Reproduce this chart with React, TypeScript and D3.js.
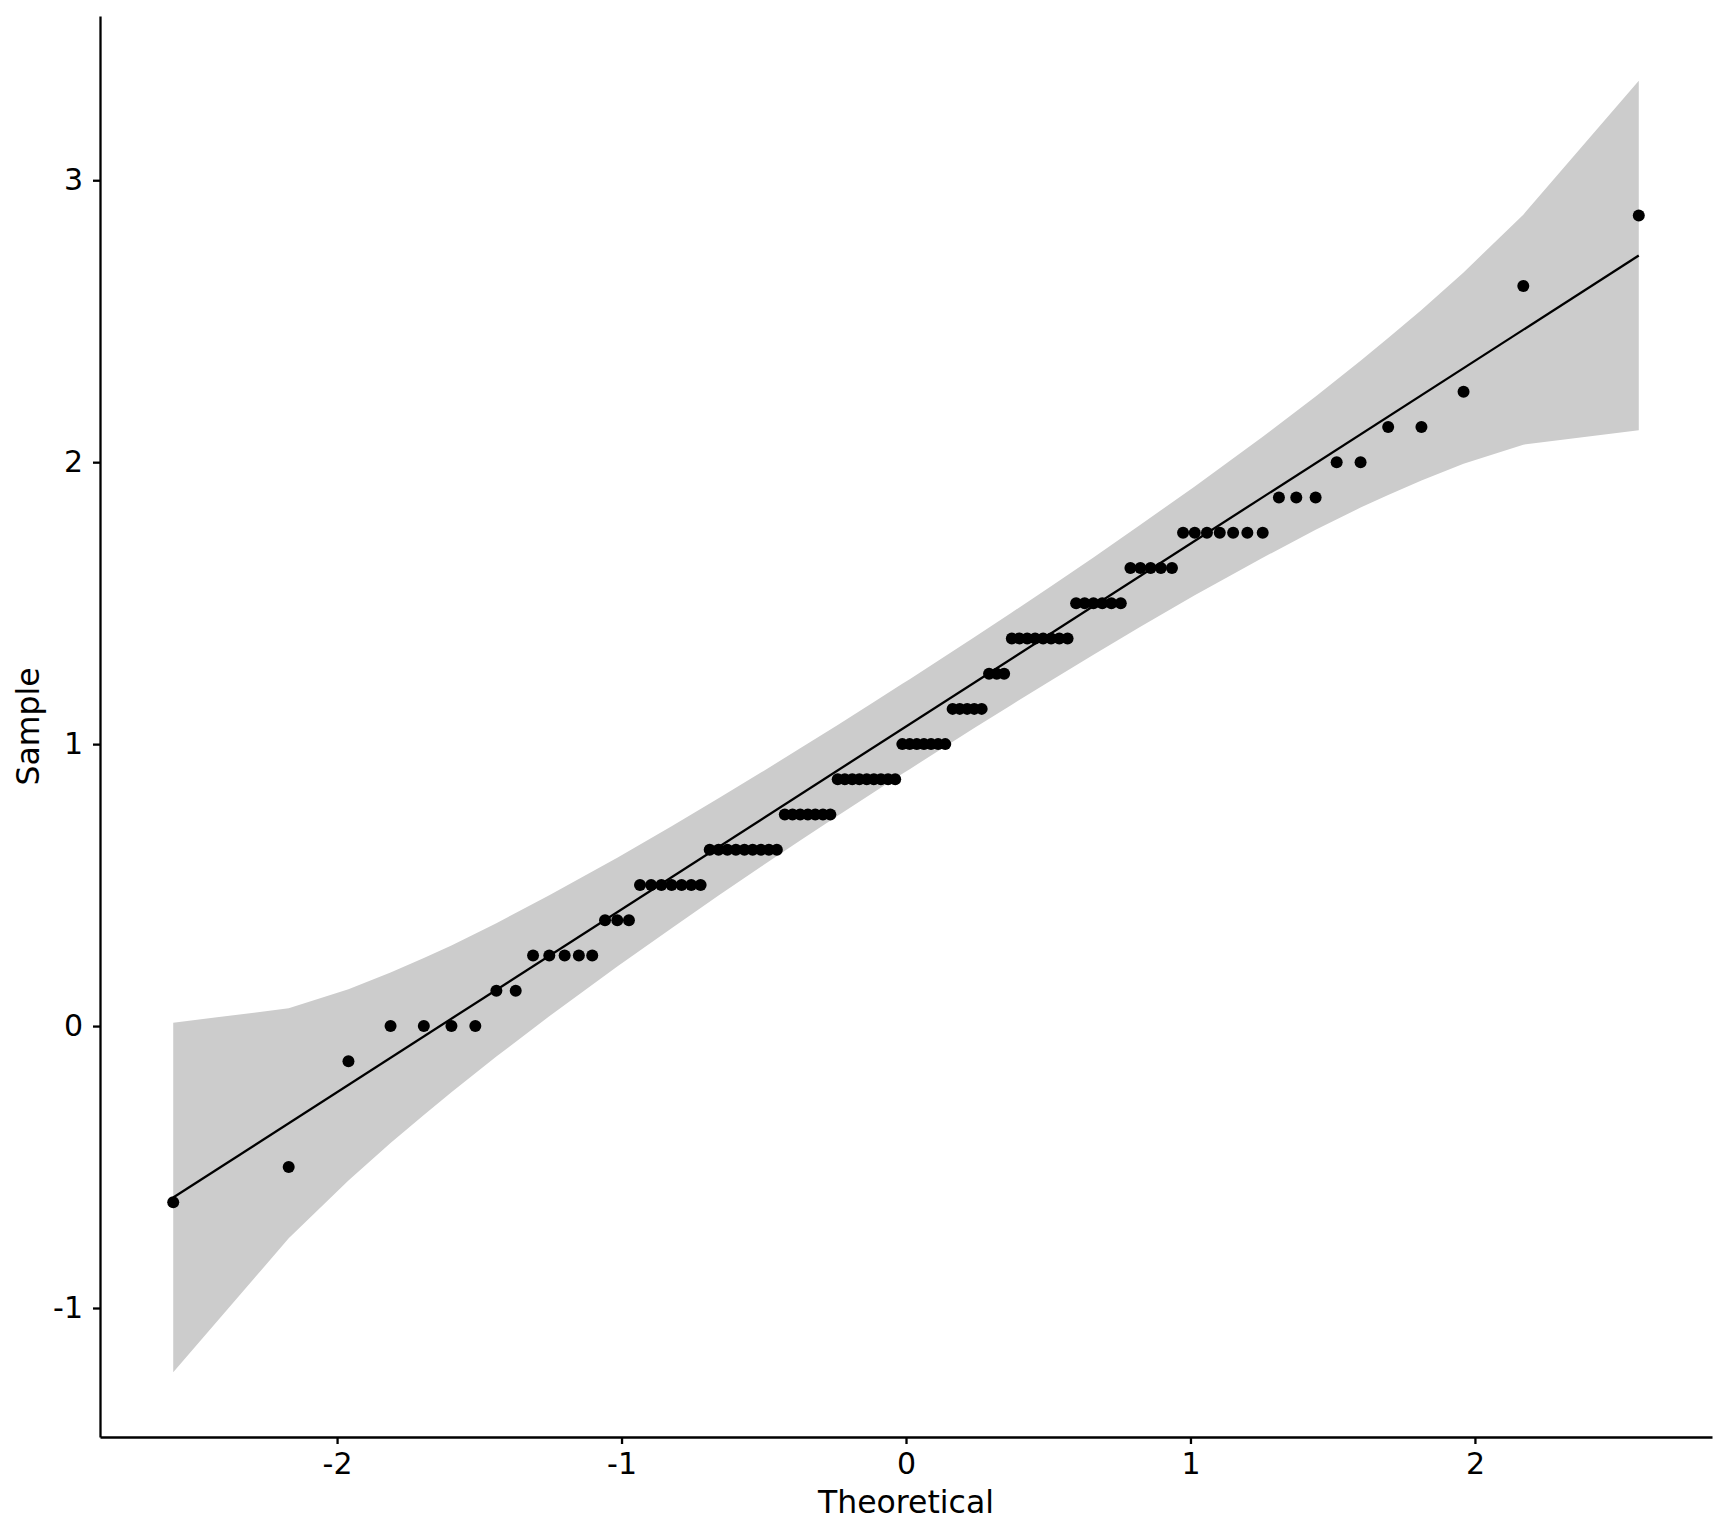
import React, { useEffect, useRef } from 'react';
import * as d3 from 'd3';

// theoretical normal quantiles (x) and sorted sample values (y)
const theoretical = [
  -2.576, -2.170, -1.960, -1.812, -1.695, -1.598, -1.514, -1.440, -1.372, -1.311,
  -1.254, -1.200, -1.150, -1.103, -1.058, -1.015, -0.974, -0.935, -0.896, -0.860,
  -0.824, -0.789, -0.755, -0.722, -0.690, -0.659, -0.628, -0.598, -0.568, -0.539,
  -0.510, -0.482, -0.454, -0.426, -0.399, -0.372, -0.345, -0.319, -0.292, -0.266,
  -0.240, -0.215, -0.189, -0.164, -0.138, -0.113, -0.088, -0.063, -0.038, -0.013,
  0.013, 0.038, 0.063, 0.088, 0.113, 0.138, 0.164, 0.189, 0.215, 0.240,
  0.266, 0.292, 0.319, 0.345, 0.372, 0.399, 0.426, 0.454, 0.482, 0.510,
  0.539, 0.568, 0.598, 0.628, 0.659, 0.690, 0.722, 0.755, 0.789, 0.824,
  0.860, 0.896, 0.935, 0.974, 1.015, 1.058, 1.103, 1.150, 1.200, 1.254,
  1.311, 1.372, 1.440, 1.514, 1.598, 1.695, 1.812, 1.960, 2.170, 2.576,
];

const sample = [
  -0.625, -0.5, -0.125, 0, 0, 0, 0, 0.125, 0.125, 0.25,
  0.25, 0.25, 0.25, 0.25, 0.375, 0.375, 0.375, 0.5, 0.5, 0.5,
  0.5, 0.5, 0.5, 0.5, 0.625, 0.625, 0.625, 0.625, 0.625, 0.625,
  0.625, 0.625, 0.625, 0.75, 0.75, 0.75, 0.75, 0.75, 0.75, 0.75,
  0.875, 0.875, 0.875, 0.875, 0.875, 0.875, 0.875, 0.875, 0.875, 1,
  1, 1, 1, 1, 1, 1, 1.125, 1.125, 1.125, 1.125,
  1.125, 1.25, 1.25, 1.25, 1.375, 1.375, 1.375, 1.375, 1.375, 1.375,
  1.375, 1.375, 1.5, 1.5, 1.5, 1.5, 1.5, 1.5, 1.625, 1.625,
  1.625, 1.625, 1.625, 1.75, 1.75, 1.75, 1.75, 1.75, 1.75, 1.75,
  1.875, 1.875, 1.875, 2, 2, 2.125, 2.125, 2.25, 2.625, 2.875,
];

// confidence band
const bandX = [
  -2.576, -2.170, -1.960, -1.812, -1.695, -1.598, -1.440, -1.254, -1.015, -0.824,
  -0.659, -0.510, -0.372, -0.240, -0.113, -0.013, 0.013, 0.113, 0.240, 0.372,
  0.510, 0.659, 0.824, 1.015, 1.254, 1.440, 1.598, 1.695, 1.812, 1.960,
  2.170, 2.576,
];
const bandUpper = [
  0.012, 0.063, 0.131, 0.190, 0.241, 0.286, 0.365, 0.464, 0.597, 0.709,
  0.808, 0.899, 0.985, 1.068, 1.149, 1.214, 1.230, 1.296, 1.379, 1.467,
  1.560, 1.662, 1.778, 1.914, 2.090, 2.233, 2.360, 2.440, 2.540, 2.673,
  2.878, 3.353,
];
const bandLower = [
  -1.228, -0.753, -0.548, -0.415, -0.315, -0.235, -0.108, 0.035, 0.211, 0.347,
  0.463, 0.565, 0.658, 0.746, 0.829, 0.895, 0.911, 0.976, 1.057, 1.140,
  1.226, 1.317, 1.416, 1.528, 1.661, 1.760, 1.839, 1.884, 1.935, 1.994,
  2.062, 2.113,
];

// reference line end points
const lineX = [-2.576, 2.576];
const lineY = [-0.608, 2.733];

const xTicks = [-2, -1, 0, 1, 2];
const yTicks = [-1, 0, 1, 2, 3];

const W = 1728;
const H = 1536;
const FONT = '"DejaVu Sans", sans-serif';

const App: React.FC = () => {
  const svgRef = useRef<SVGSVGElement>(null);

  useEffect(() => {
    if (!svgRef.current) return;
    const svg = d3.select(svgRef.current);
    svg.selectAll('*').remove();

    const left = 100, right = 1712, top = 16, bottom = 1437;

    const x = d3.scaleLinear().domain([-2.8334, 2.8334]).range([left, right]);
    const y = d3.scaleLinear().domain([-1.4575, 3.5825]).range([bottom, top]);

    const bandData = bandX.map((v, i) => ({ x: v, lo: bandLower[i], hi: bandUpper[i] }));
    const area = d3.area<{ x: number; lo: number; hi: number }>()
      .x(d => x(d.x))
      .y0(d => y(d.lo))
      .y1(d => y(d.hi));

    svg.append('path')
      .datum(bandData)
      .attr('d', area)
      .attr('fill', '#cccccc');

    const line = d3.line<number>()
      .x(d => x(d))
      .y((d, i) => y(lineY[i]));

    svg.append('path')
      .datum(lineX)
      .attr('d', line)
      .attr('fill', 'none')
      .attr('stroke', 'black')
      .attr('stroke-width', 2.3);

    svg.append('g')
      .selectAll('circle')
      .data(theoretical)
      .enter()
      .append('circle')
      .attr('cx', d => x(d))
      .attr('cy', (d, i) => y(sample[i]))
      .attr('r', 6)
      .attr('fill', 'black');

    // Axes
    const xAxis = svg.append('g')
      .attr('transform', `translate(0,${bottom})`)
      .call(d3.axisBottom(x).tickValues(xTicks).tickFormat(d3.format('d'))
        .tickSize(7).tickSizeOuter(0).tickPadding(9));

    const yAxis = svg.append('g')
      .attr('transform', `translate(${left},0)`)
      .call(d3.axisLeft(y).tickValues(yTicks).tickFormat(d3.format('d'))
        .tickSize(7).tickSizeOuter(0).tickPadding(10));

    [xAxis, yAxis].forEach(a => {
      a.attr('font-family', FONT).attr('font-size', 30);
      a.select('.domain').attr('stroke', 'black').attr('stroke-width', 2.3);
      a.selectAll('.tick line').attr('stroke', 'black').attr('stroke-width', 2.3);
      a.selectAll('.tick text').attr('fill', 'black').text(d => String(d).replace('−', '-'));
    });
    xAxis.selectAll('.tick text').text(d => `${d}`);
    yAxis.selectAll('.tick text').text(d => `${d}`);

    svg.append('text')
      .attr('x', (left + right) / 2)
      .attr('y', 1513)
      .attr('text-anchor', 'middle')
      .attr('font-family', FONT)
      .attr('font-size', 31.5)
      .attr('fill', 'black')
      .text('Theoretical');

    svg.append('text')
      .attr('transform', `translate(39,${(top + bottom) / 2}) rotate(-90)`)
      .attr('text-anchor', 'middle')
      .attr('font-family', FONT)
      .attr('font-size', 31.5)
      .attr('fill', 'black')
      .text('Sample');
  }, []);

  return (
    <svg
      ref={svgRef}
      width={W}
      height={H}
      style={{ position: 'absolute', left: 0, top: 0, background: 'white' }}
    />
  );
};

export default App;
